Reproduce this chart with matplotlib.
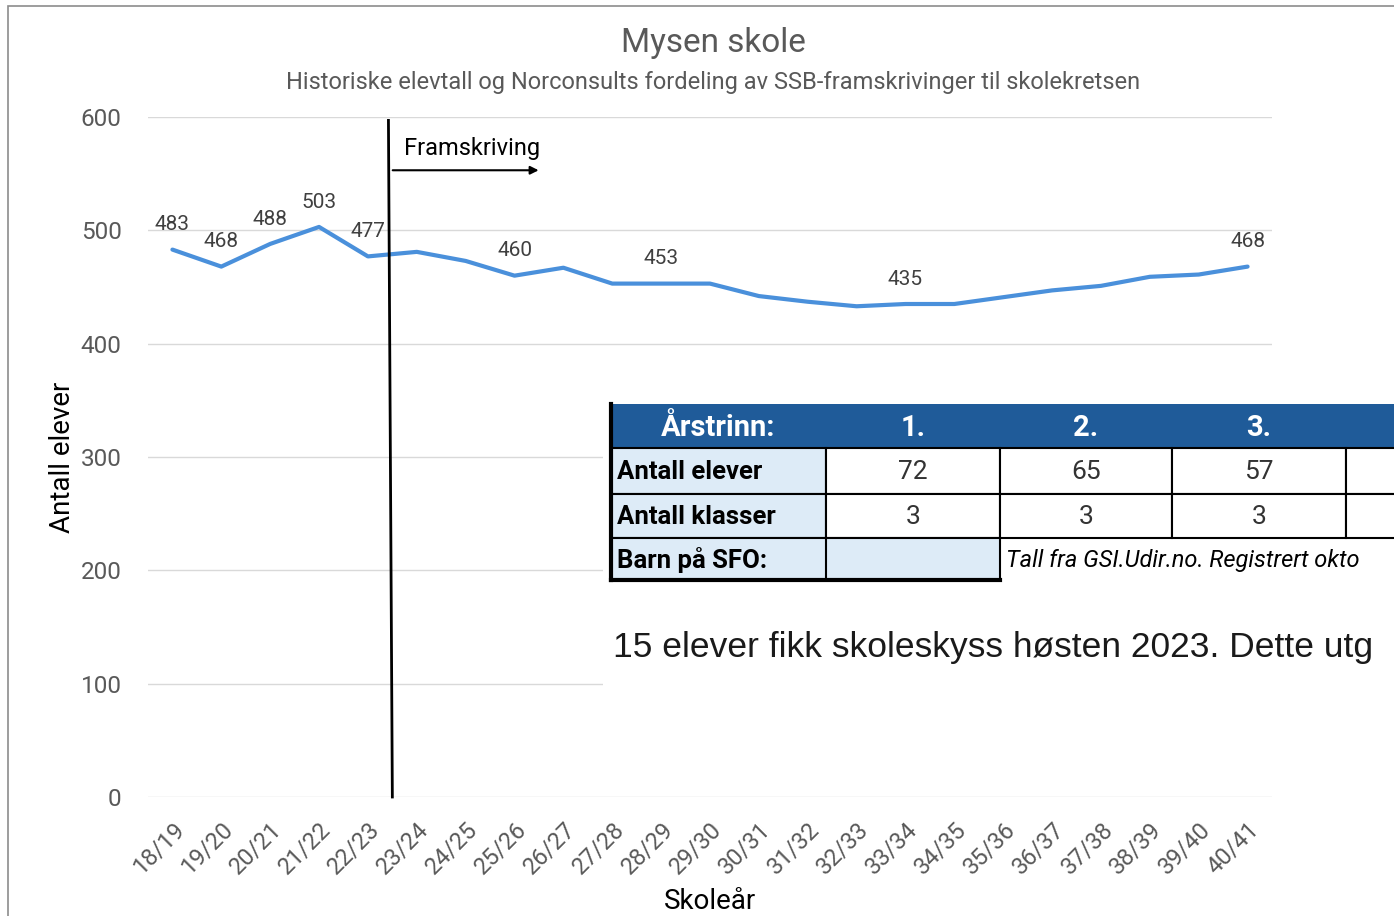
import matplotlib
matplotlib.use("Agg")
import matplotlib.pyplot as plt
from matplotlib.patches import Rectangle

# --- data ---
skoleaar = ["18/19", "19/20", "20/21", "21/22", "22/23", "23/24", "24/25", "25/26",
            "26/27", "27/28", "28/29", "29/30", "30/31", "31/32", "32/33", "33/34",
            "34/35", "35/36", "36/37", "37/38", "38/39", "39/40", "40/41"]
elever = [483, 468, 488, 503, 477, 481, 473, 460, 467, 453, 453, 453, 442, 437,
          433, 435, 435, 441, 447, 451, 459, 461, 468]
vis_etikett = [0, 1, 2, 3, 4, 7, 10, 15, 22]   # punkter med dataetikett
framskriving_start = 4.45                      # mellom 22/23 og 23/24

# tabell (limt inn som bilde i originalen)
tab_header = ["Årstrinn:", "1.", "2.", "3.", ""]
tab_elever = [72, 65, 57, ""]
tab_klasser = [3, 3, 3, ""]
tab_kilde = "Tall fra GSI.Udir.no. Registrert okto"
skyss_tekst = "15 elever fikk skoleskyss høsten 2023. Dette utg"

W, H = 1394, 916
GRA = "#595959"
BLA = "#4A90DB"

plt.rcParams['font.family'] = ['Roboto', 'DejaVu Sans']

fig = plt.figure(figsize=(W / 100, H / 100), dpi=100)
fig.patches.append(Rectangle((8 / W, -0.1), 1.2, 1 - 6 / H + 0.1, transform=fig.transFigure,
                             fill=False, edgecolor="#8c8c8c", linewidth=1.2))

ax = fig.add_axes([148 / W, 1 - 797 / H, (1272 - 148) / W, (797 - 117) / H])
x = list(range(len(skoleaar)))
ax.plot(x, elever, color=BLA, linewidth=3, solid_capstyle='round', zorder=3)
for i in vis_etikett:
    ax.annotate(str(elever[i]), (x[i], elever[i]), xytext=(0, 11), textcoords='offset points',
                ha='center', va='bottom', fontsize=15, color="#404040")

ax.set_xlim(-0.5, len(skoleaar) - 0.5)
ax.set_ylim(0, 600)
ax.set_yticks(range(0, 601, 100))
ax.grid(axis='y', color="#d9d9d9", linewidth=1)
ax.set_axisbelow(True)
for s in ax.spines.values():
    s.set_visible(False)
ax.tick_params(axis='y', length=0, pad=19, labelsize=17.5, labelcolor=GRA)
ax.tick_params(axis='x', length=0, pad=15, labelsize=17, labelcolor=GRA)
ax.set_xticks(x)
ax.set_xticklabels(skoleaar, rotation=45, ha='right', rotation_mode='anchor')
ax.set_xlabel("Skoleår", fontsize=20, color="black", labelpad=7)
ax.set_ylabel("Antall elever", fontsize=20, color="black", labelpad=3)

# framskrivingslinje og pil
ax.plot([framskriving_start - 0.03, framskriving_start + 0.05], [597, 0], color="black",
        linewidth=2, zorder=4, clip_on=False)
ax.annotate("", xy=(framskriving_start + 3.1, 553), xytext=(framskriving_start, 553),
            arrowprops=dict(arrowstyle="-|>", color="black", lw=1.5, mutation_scale=12))
ax.text(framskriving_start + 0.28, 562, "Framskriving", fontsize=17, color="black",
        ha='left', va='bottom')

fig.text(713 / W, 1 - 43 / H, "Mysen skole", ha='center', va='center', fontsize=24, color=GRA)
fig.text(713 / W, 1 - 82 / H,
         "Historiske elevtall og Norconsults fordeling av SSB-framskrivinger til skolekretsen",
         ha='center', va='center', fontsize=17, color=GRA)

# --- tabell-bildet ---
tax = fig.add_axes([603 / W, 1 - 785 / H, (W - 603) / W, (785 - 395) / H], zorder=5)
tax.set_xlim(603, W)
tax.set_ylim(785, 395)
tax.axis('off')
tax.add_patch(Rectangle((603, 395), W - 603, 390, facecolor="white", edgecolor="none"))

kol = [611, 826, 1000, 1172, 1346, 1520]
rad = [404, 448, 494, 538, 580]
smal = ['Roboto', 'DejaVu Sans']
blaa_hode = "#1F5B99"
lys_blaa = "#DDEBF7"

tax.add_patch(Rectangle((kol[0], rad[0]), kol[-1] - kol[0], rad[1] - rad[0],
                        facecolor=blaa_hode, edgecolor="none"))
for j, t in enumerate(tab_header):
    tax.text((kol[j] + kol[j + 1]) / 2, (rad[0] + rad[1]) / 2 + 2, t, ha='center', va='center',
             color="white", fontsize=21, fontweight='bold', family=smal, clip_on=True)

rader = [("Antall elever", tab_elever), ("Antall klasser", tab_klasser)]
for r, (navn, verdier) in enumerate(rader):
    y0, y1 = rad[r + 1], rad[r + 2]
    tax.add_patch(Rectangle((kol[0], y0), kol[1] - kol[0], y1 - y0, facecolor=lys_blaa,
                            edgecolor="black", linewidth=1.5))
    tax.text(kol[0] + 6, (y0 + y1) / 2 + 1, navn, ha='left', va='center', fontsize=18.5,
             fontweight='bold', family=smal, color="black")
    for j, v in enumerate(verdier):
        tax.add_patch(Rectangle((kol[j + 1], y0), kol[j + 2] - kol[j + 1], y1 - y0,
                                facecolor="white", edgecolor="black", linewidth=1.5))
        tax.text((kol[j + 1] + kol[j + 2]) / 2, (y0 + y1) / 2 + 1, str(v), ha='center',
                 va='center', fontsize=19, family=smal, color="#333333")

y0, y1 = rad[3], rad[4]
tax.add_patch(Rectangle((kol[0], y0), kol[2] - kol[0], y1 - y0, facecolor=lys_blaa,
                        edgecolor="black", linewidth=1.5))
tax.plot([kol[1], kol[1]], [y0, y1], color="black", linewidth=1.5)
tax.plot([kol[0], kol[2]], [y1, y1], color="black", linewidth=3)
tax.plot([kol[0], kol[0]], [rad[0], y1], color="black", linewidth=3)
tax.text(kol[0] + 6, (y0 + y1) / 2 + 1, "Barn på SFO:", ha='left', va='center', fontsize=18.5,
         fontweight='bold', family=smal, color="black")
tax.text(kol[2] + 6, (y0 + y1) / 2 + 1, tab_kilde, ha='left', va='center', fontsize=17,
         style='italic', family=smal, color="black", clip_on=True)

tax.text(613, 647, skyss_tekst, ha='left', va='center', fontsize=25.5,
         family=['Liberation Sans', 'DejaVu Sans'], color="#1a1a1a", clip_on=True)

fig.savefig("out.png", dpi=100)
